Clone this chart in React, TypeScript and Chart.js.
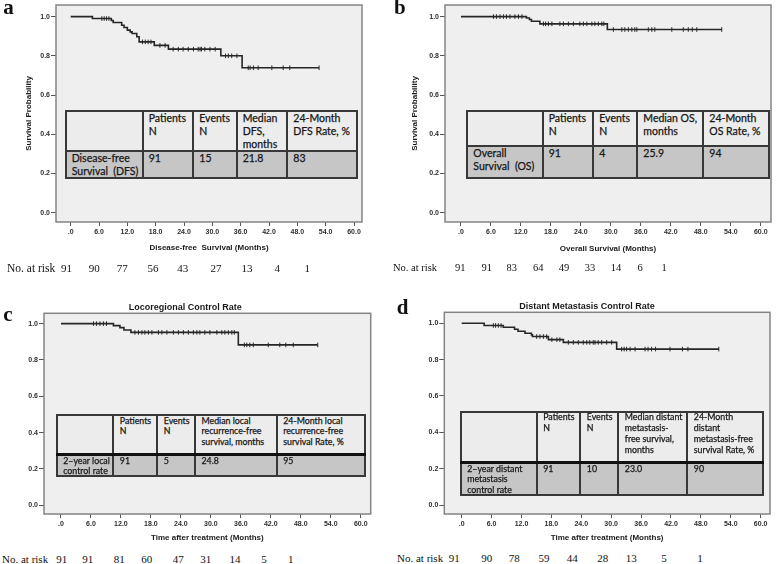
import React, { useEffect, useRef } from "react";
import { Chart, registerables } from "chart.js";

Chart.register(...registerables);

// ---------------- data ----------------
const xTickValues = [0, 6, 12, 18, 24, 30, 36, 42, 48, 54, 60];
const yTickValues = [0, 0.2, 0.4, 0.6, 0.8, 1.0];

// a: Disease-free survival
const dfsEventTimes = [4.6, 8.6, 9.0, 10.8, 11.3, 12.0, 12.6, 13.0, 14.0, 14.5, 17.7, 20.7, 31.8, 36.3];
const dfsSurvival = [0.99, 0.98, 0.97, 0.956, 0.944, 0.931, 0.922, 0.914, 0.897, 0.871, 0.853, 0.834, 0.8, 0.739];
const dfsCensorTimes = [6.6, 7.1, 7.6, 8.1, 15.2, 15.8, 16.4, 17.0, 18.9, 20.0, 21.7, 22.8, 23.8, 24.9, 26.0, 27.0, 27.4, 27.7, 28.4, 29.5, 30.6, 32.8, 33.4, 34.1, 35.2, 37.6, 38.0, 38.7, 39.7, 42.6, 45.0, 46.4, 52.6];
const dfsAtRisk = [91, 90, 77, 56, 43, 27, 13, 4, 1];

// b: Overall survival
const osEventTimes = [13.1, 13.7, 14.1, 15.8, 29.3];
const osSurvival = [0.993, 0.985, 0.976, 0.963, 0.934];
const osCensorTimes = [6.5, 7.1, 7.8, 8.5, 9.1, 9.8, 10.8, 11.5, 12.2, 16.5, 16.95, 17.5, 18.2, 19.8, 20.5, 21.5, 22.5, 23.8, 24.5, 25.2, 26.2, 26.8, 27.5, 28.2, 28.6, 30.5, 32.2, 32.8, 33.5, 34.2, 34.8, 35.2, 37.5, 38.2, 38.8, 42.2, 44.5, 45.5, 46.3, 47.2, 52.2];
const osAtRisk = [91, 91, 83, 64, 49, 33, 14, 6, 1];

// c: Locoregional control
const lcEventTimes = [10.5, 11.8, 12.6, 14.0, 35.5];
const lcSurvival = [0.989, 0.978, 0.965, 0.952, 0.883];
const lcCensorTimes = [6.5, 7.1, 7.8, 8.5, 9.1, 14.8, 15.5, 16.2, 16.8, 17.5, 18.2, 19.5, 20.2, 21.2, 22.5, 23.5, 24.5, 25.5, 26.5, 27.2, 27.8, 28.8, 29.8, 31.2, 32.2, 32.8, 33.5, 34.2, 34.7, 36.7, 37.2, 37.8, 38.5, 41.5, 43.8, 45.0, 46.5, 51.4];
const lcAtRisk = [91, 91, 81, 60, 47, 31, 14, 5, 1];

// d: Distant metastasis control
const dmEventTimes = [4.5, 8.35, 10.6, 11.3, 12.7, 14.0, 14.2, 17.4, 20.4, 31.1];
const dmSurvival = [0.988, 0.978, 0.967, 0.956, 0.945, 0.936, 0.927, 0.91, 0.895, 0.858];
const dmCensorTimes = [6.35, 6.8, 7.35, 7.9, 15.05, 15.7, 16.4, 17.05, 18.1, 19.1, 19.7, 21.4, 22.4, 23.4, 24.4, 25.1, 25.7, 26.4, 26.75, 27.4, 28.1, 29.1, 30.1, 32.1, 32.6, 33.1, 33.8, 34.8, 36.8, 37.4, 38.1, 38.9, 41.8, 44.3, 45.4, 51.6];
const dmAtRisk = [91, 90, 78, 59, 44, 28, 13, 5, 1];

// table texts
const tableAHeader = ["", "Patients\nN", "Events\nN", "Median\nDFS,\nmonths", "24-Month\nDFS Rate, %"];
const tableARow = ["Disease-free\nSurvival  (DFS)", "91", "15", "21.8", "83"];
const tableBHeader = ["", "Patients\nN", "Events\nN", "Median OS,\nmonths", "24-Month\nOS Rate, %"];
const tableBRow = ["Overall\nSurvival  (OS)", "91", "4", "25.9", "94"];
const tableCHeader = ["", "Patients\nN", "Events\nN", "Median local\nrecurrence-free\nsurvival, months", "24-Month local\nrecurrence-free\nsurvival Rate, %"];
const tableCRow = ["2\u2013year local\ncontrol rate", "91", "5", "24.8", "95"];
const tableDHeader = ["", "Patients\nN", "Events\nN", "Median distant\nmetastasis-\nfree survival,\nmonths", "24-Month\ndistant\nmetastasis-free\nsurvival Rate, %"];
const tableDRow = ["2\u2013year distant\nmetastasis\ncontrol rate", "91", "10", "23.0", "90"];

// ---------------- helpers ----------------
function survivalAt(times: number[], surv: number[], t: number) {
  let s = 1;
  for (let i = 0; i < times.length; i++) if (times[i] <= t) s = surv[i];
  return s;
}

function stepPoints(times: number[], surv: number[], censor: number[]) {
  const pts = [{ x: 0, y: 1 }];
  times.forEach((t, i) => pts.push({ x: t, y: surv[i] }));
  const end = Math.max(...censor, ...times);
  pts.push({ x: end, y: survivalAt(times, surv, end) });
  return pts;
}

function censorPoints(times: number[], surv: number[], censor: number[]) {
  return censor.map((t) => ({ x: t, y: survivalAt(times, surv, t) }));
}

const FONT = "'Liberation Sans', Arial, sans-serif";
const INK = "#262626";

type PanelCfg = {
  left: number; top: number; w: number; h: number;
  yW: number; padR: number; padT: number; xH: number;
  xMin: number; xMax: number; yMin: number; yMax: number;
  xTitle: string; xTitlePadB: number;
  yTitle: string | null; yTitlePadT: number;
  title: string | null; titlePadT: number; titlePadB: number;
  times: number[]; surv: number[]; censor: number[];
};

const framePlugin = {
  id: "kmFrame",
  beforeDatasetsDraw(chart: any) {
    const { ctx, chartArea: a } = chart;
    ctx.save();
    ctx.fillStyle = "#efefef";
    ctx.fillRect(a.left, a.top, a.right - a.left, a.bottom - a.top);
    ctx.strokeStyle = "#848484";
    ctx.lineWidth = 1.5;
    ctx.strokeRect(a.left, a.top, a.right - a.left, a.bottom - a.top);
    ctx.restore();
  },
};

function KMChart({ p }: { p: PanelCfg }) {
  const ref = useRef<HTMLCanvasElement>(null);
  useEffect(() => {
    const tickFont = { family: FONT, size: 7, weight: "bold" as const };
    const chart = new Chart(ref.current!, {
      type: "line",
      data: {
        datasets: [
          {
            data: stepPoints(p.times, p.surv, p.censor),
            stepped: "before",
            borderColor: INK,
            borderWidth: 1.6,
            pointRadius: 0,
            fill: false,
          },
          {
            data: censorPoints(p.times, p.surv, p.censor),
            showLine: false,
            pointStyle: "line",
            rotation: 90,
            pointRadius: 2.3,
            borderColor: INK,
            borderWidth: 1,
          } as any,
        ],
      },
      options: {
        animation: false,
        responsive: false,
        events: [],
        layout: { padding: { left: 0, right: p.padR, top: p.padT, bottom: 0 } },
        plugins: {
          legend: { display: false },
          tooltip: { enabled: false },
          title: p.title
            ? {
                display: true,
                text: p.title,
                color: "#1a1a1a",
                font: { family: FONT, size: 9, weight: "bold" },
                padding: { top: p.titlePadT, bottom: p.titlePadB },
              }
            : { display: false },
        },
        scales: {
          x: {
            type: "linear",
            min: p.xMin,
            max: p.xMax,
            afterBuildTicks: (s: any) => {
              s.ticks = xTickValues.map((v) => ({ value: v }));
            },
            afterFit: (s: any) => {
              s.height = p.xH;
              s.paddingLeft = 0;
              s.paddingRight = 0;
            },
            grid: { display: true, drawOnChartArea: false, drawTicks: true, tickLength: 4, tickColor: "#555", tickWidth: 1 },
            border: { display: false },
            ticks: {
              autoSkip: false,
              maxRotation: 0,
              padding: 1.5,
              color: "#2e2e2e",
              font: tickFont,
              callback: (v: any) => (v === 0 ? ".0" : Number(v).toFixed(1)),
            },
            title: {
              display: true,
              text: p.xTitle,
              color: "#1a1a1a",
              font: { family: FONT, size: 8, weight: "bold" },
              padding: { top: 0, bottom: p.xTitlePadB },
            },
          },
          y: {
            type: "linear",
            min: p.yMin,
            max: p.yMax,
            afterBuildTicks: (s: any) => {
              s.ticks = yTickValues.map((v) => ({ value: v }));
            },
            afterFit: (s: any) => {
              s.width = p.yW;
              s.paddingTop = 0;
              s.paddingBottom = 0;
            },
            grid: { display: true, drawOnChartArea: false, drawTicks: true, tickLength: 5, tickColor: "#555", tickWidth: 1 },
            border: { display: false },
            ticks: {
              autoSkip: false,
              padding: 1,
              color: "#2e2e2e",
              font: tickFont,
              callback: (v: any) => Number(v).toFixed(1),
            },
            title: p.yTitle
              ? {
                  display: true,
                  text: p.yTitle,
                  color: "#1a1a1a",
                  font: { family: FONT, size: 8, weight: "bold" },
                  padding: { top: p.yTitlePadT, bottom: 0 },
                }
              : { display: false },
          },
        },
      } as any,
      plugins: [framePlugin],
    });
    return () => chart.destroy();
  }, []);
  return (
    <canvas
      ref={ref}
      width={p.w}
      height={p.h}
      style={{ position: "absolute", left: p.left, top: p.top, width: p.w, height: p.h }}
    />
  );
}

// ---------------- layout ----------------
const panels: PanelCfg[] = [
  {
    left: 0, top: 0, w: 390, h: 254, yW: 56, padR: 28, padT: 4, xH: 32,
    xMin: -3.11, xMax: 61.69, yMin: -0.047, yMax: 1.059,
    xTitle: "Disease-free  Survival (Months)", xTitlePadB: 1.5,
    yTitle: "Survival Probability", yTitlePadT: 23.5,
    title: null, titlePadT: 0, titlePadB: 0,
    times: dfsEventTimes, surv: dfsSurvival, censor: dfsCensorTimes,
  },
  {
    left: 390, top: 0, w: 388, h: 254, yW: 55, padR: 7, padT: 4, xH: 32,
    xMin: -3.2, xMax: 62.06, yMin: -0.047, yMax: 1.059,
    xTitle: "Overall Survival (Months)", xTitlePadB: 0.9,
    yTitle: "Survival Probability", yTitlePadT: 20.2,
    title: null, titlePadT: 0, titlePadB: 0,
    times: osEventTimes, surv: osSurvival, censor: osCensorTimes,
  },
  {
    left: 0, top: 295, w: 378, h: 254, yW: 44, padR: 7.3, padT: 0, xH: 35,
    xMin: -3.4, xMax: 62.0, yMin: -0.048, yMax: 1.057,
    xTitle: "Time after treatment (Months)", xTitlePadB: 6.5,
    yTitle: null, yTitlePadT: 0,
    title: "Locoregional Control Rate", titlePadT: 6.9, titlePadB: 0.6,
    times: lcEventTimes, surv: lcSurvival, censor: lcCensorTimes,
  },
  {
    left: 404, top: 295, w: 374, h: 254, yW: 40.3, padR: 8, padT: 0, xH: 35,
    xMin: -3.49, xMax: 61.87, yMin: -0.0495, yMax: 1.0605,
    xTitle: "Time after treatment (Months)", xTitlePadB: 6.9,
    yTitle: null, yTitlePadT: 0,
    title: "Distant Metastasis Control Rate", titlePadT: 6.3, titlePadB: 0.2,
    times: dmEventTimes, surv: dmSurvival, censor: dmCensorTimes,
  },
];

type TableSpec = {
  xs: number[]; ys: number[]; header: string[]; row: string[];
  fontSize: number; lineHeight: number; padX: number; padTop: number; rowPadTop: number; splitWidth: number;
};

const tables: TableSpec[] = [
  { xs: [65.7, 142.7, 193.3, 236.7, 287.3, 356.7], ys: [110.7, 150.7, 177.7], header: tableAHeader, row: tableARow, fontSize: 10.5, lineHeight: 13.3, padX: 6, padTop: 1, rowPadTop: 0, splitWidth: 2 },
  { xs: [467.3, 542.7, 593.3, 637.3, 703.3, 769.3], ys: [110.7, 146, 177.7], header: tableBHeader, row: tableBRow, fontSize: 10.5, lineHeight: 13.3, padX: 6, padTop: 1, rowPadTop: 0, splitWidth: 2 },
  { xs: [56.7, 113.3, 157.3, 195, 276.7, 365], ys: [415, 454, 476], header: tableCHeader, row: tableCRow, fontSize: 8.8, lineHeight: 10.7, padX: 6.5, padTop: 0.7, rowPadTop: 0.7, splitWidth: 3 },
  { xs: [460.7, 536.7, 580.3, 618.3, 687.3, 763.3], ys: [411.7, 462.3, 495], header: tableDHeader, row: tableDRow, fontSize: 8.8, lineHeight: 10.8, padX: 6.5, padTop: 0.6, rowPadTop: 0.2, splitWidth: 3 },
];

const LINE = "#383838";

function DataTable({ t }: { t: TableSpec }) {
  const { xs, ys } = t;
  const L = xs[0], R = xs[xs.length - 1], T = ys[0], B = ys[2];
  const abs = { position: "absolute" as const };
  const txt: React.CSSProperties = {
    ...abs,
    whiteSpace: "pre",
    fontFamily: "Lato, 'Open Sans', sans-serif",
    fontSize: t.fontSize,
    lineHeight: t.lineHeight + "px",
    color: "#111",
    WebkitTextStroke: "0.25px #222",
  };
  return (
    <>
      <div style={{ ...abs, left: L, top: T, width: R - L, height: ys[1] - T, background: "#ececec" }} />
      <div style={{ ...abs, left: L, top: ys[1], width: R - L, height: B - ys[1], background: "#c6c6c6" }} />
      {t.header.map((s, i) => (
        <div key={"h" + i} style={{ ...txt, left: xs[i] + t.padX, top: T + t.padTop }}>{s}</div>
      ))}
      {t.row.map((s, i) => (
        <div key={"r" + i} style={{ ...txt, left: xs[i] + t.padX, top: ys[1] + t.rowPadTop + 1 }}>{s}</div>
      ))}
      {xs.map((x, i) => (
        <div key={"v" + i} style={{ ...abs, left: x - 1, top: T - 1, width: 2, height: B - T + 2, background: LINE }} />
      ))}
      {ys.map((y, i) => {
        const w = i === 1 ? t.splitWidth : 2;
        return <div key={"hl" + i} style={{ ...abs, left: L - 1, top: y - w / 2, width: R - L + 2, height: w, background: i === 1 && w > 2 ? "#111" : LINE }} />;
      })}
    </>
  );
}

type AtRiskSpec = { values: number[]; xs: number[]; y: number; labelX: number; labelSize: number; numSize: number };
const atRiskRows: AtRiskSpec[] = [
  { values: dfsAtRisk, xs: [66.5, 94.3, 122.3, 153, 182.7, 216, 247, 277.3, 307.3], y: 268.3, labelX: 7, labelSize: 11.5, numSize: 11 },
  { values: osAtRisk, xs: [460.3, 486.7, 511.7, 538.3, 564, 590, 616, 640, 664], y: 268.3, labelX: 393, labelSize: 10.5, numSize: 10.5 },
  { values: lcAtRisk, xs: [61.7, 87.7, 119.3, 146.7, 178.3, 205.7, 235, 264, 290.7], y: 559, labelX: 2, labelSize: 11, numSize: 11 },
  { values: dmAtRisk, xs: [454.3, 486.7, 514.3, 544, 572.3, 602.7, 631.3, 664, 700], y: 558.3, labelX: 397, labelSize: 11, numSize: 11 },
];

const panelLetters = [
  { t: "a", x: 3.3, baseline: 15 },
  { t: "b", x: 394, baseline: 15 },
  { t: "c", x: 3.3, baseline: 322 },
  { t: "d", x: 396.7, baseline: 315 },
];

const SERIF = "'Liberation Serif', 'Times New Roman', serif";

export default function App() {
  return (
    <div style={{ position: "absolute", left: 0, top: 0, width: 778, height: 564, background: "#fff", overflow: "hidden" }}>
      {panels.map((p, i) => (
        <KMChart key={i} p={p} />
      ))}
      {tables.map((t, i) => (
        <DataTable key={i} t={t} />
      ))}
      {panelLetters.map((l) => (
        <div
          key={l.t}
          style={{ position: "absolute", left: l.x, top: l.baseline - 18.2, fontFamily: SERIF, fontWeight: "bold", fontSize: 21, lineHeight: "21px", color: "#111" }}
        >
          {l.t}
        </div>
      ))}
      {atRiskRows.map((r, ri) => (
        <React.Fragment key={ri}>
          <div
            style={{ position: "absolute", left: r.labelX, top: r.y - r.labelSize / 2, fontFamily: SERIF, fontSize: r.labelSize, lineHeight: r.labelSize + "px", color: "#111", whiteSpace: "pre" }}
          >
            No. at risk
          </div>
          {r.values.map((v, i) => (
            <div
              key={i}
              style={{ position: "absolute", left: r.xs[i], top: r.y - r.numSize / 2, transform: "translateX(-50%)", fontFamily: SERIF, fontSize: r.numSize, lineHeight: r.numSize + "px", color: "#111" }}
            >
              {v}
            </div>
          ))}
        </React.Fragment>
      ))}
    </div>
  );
}
